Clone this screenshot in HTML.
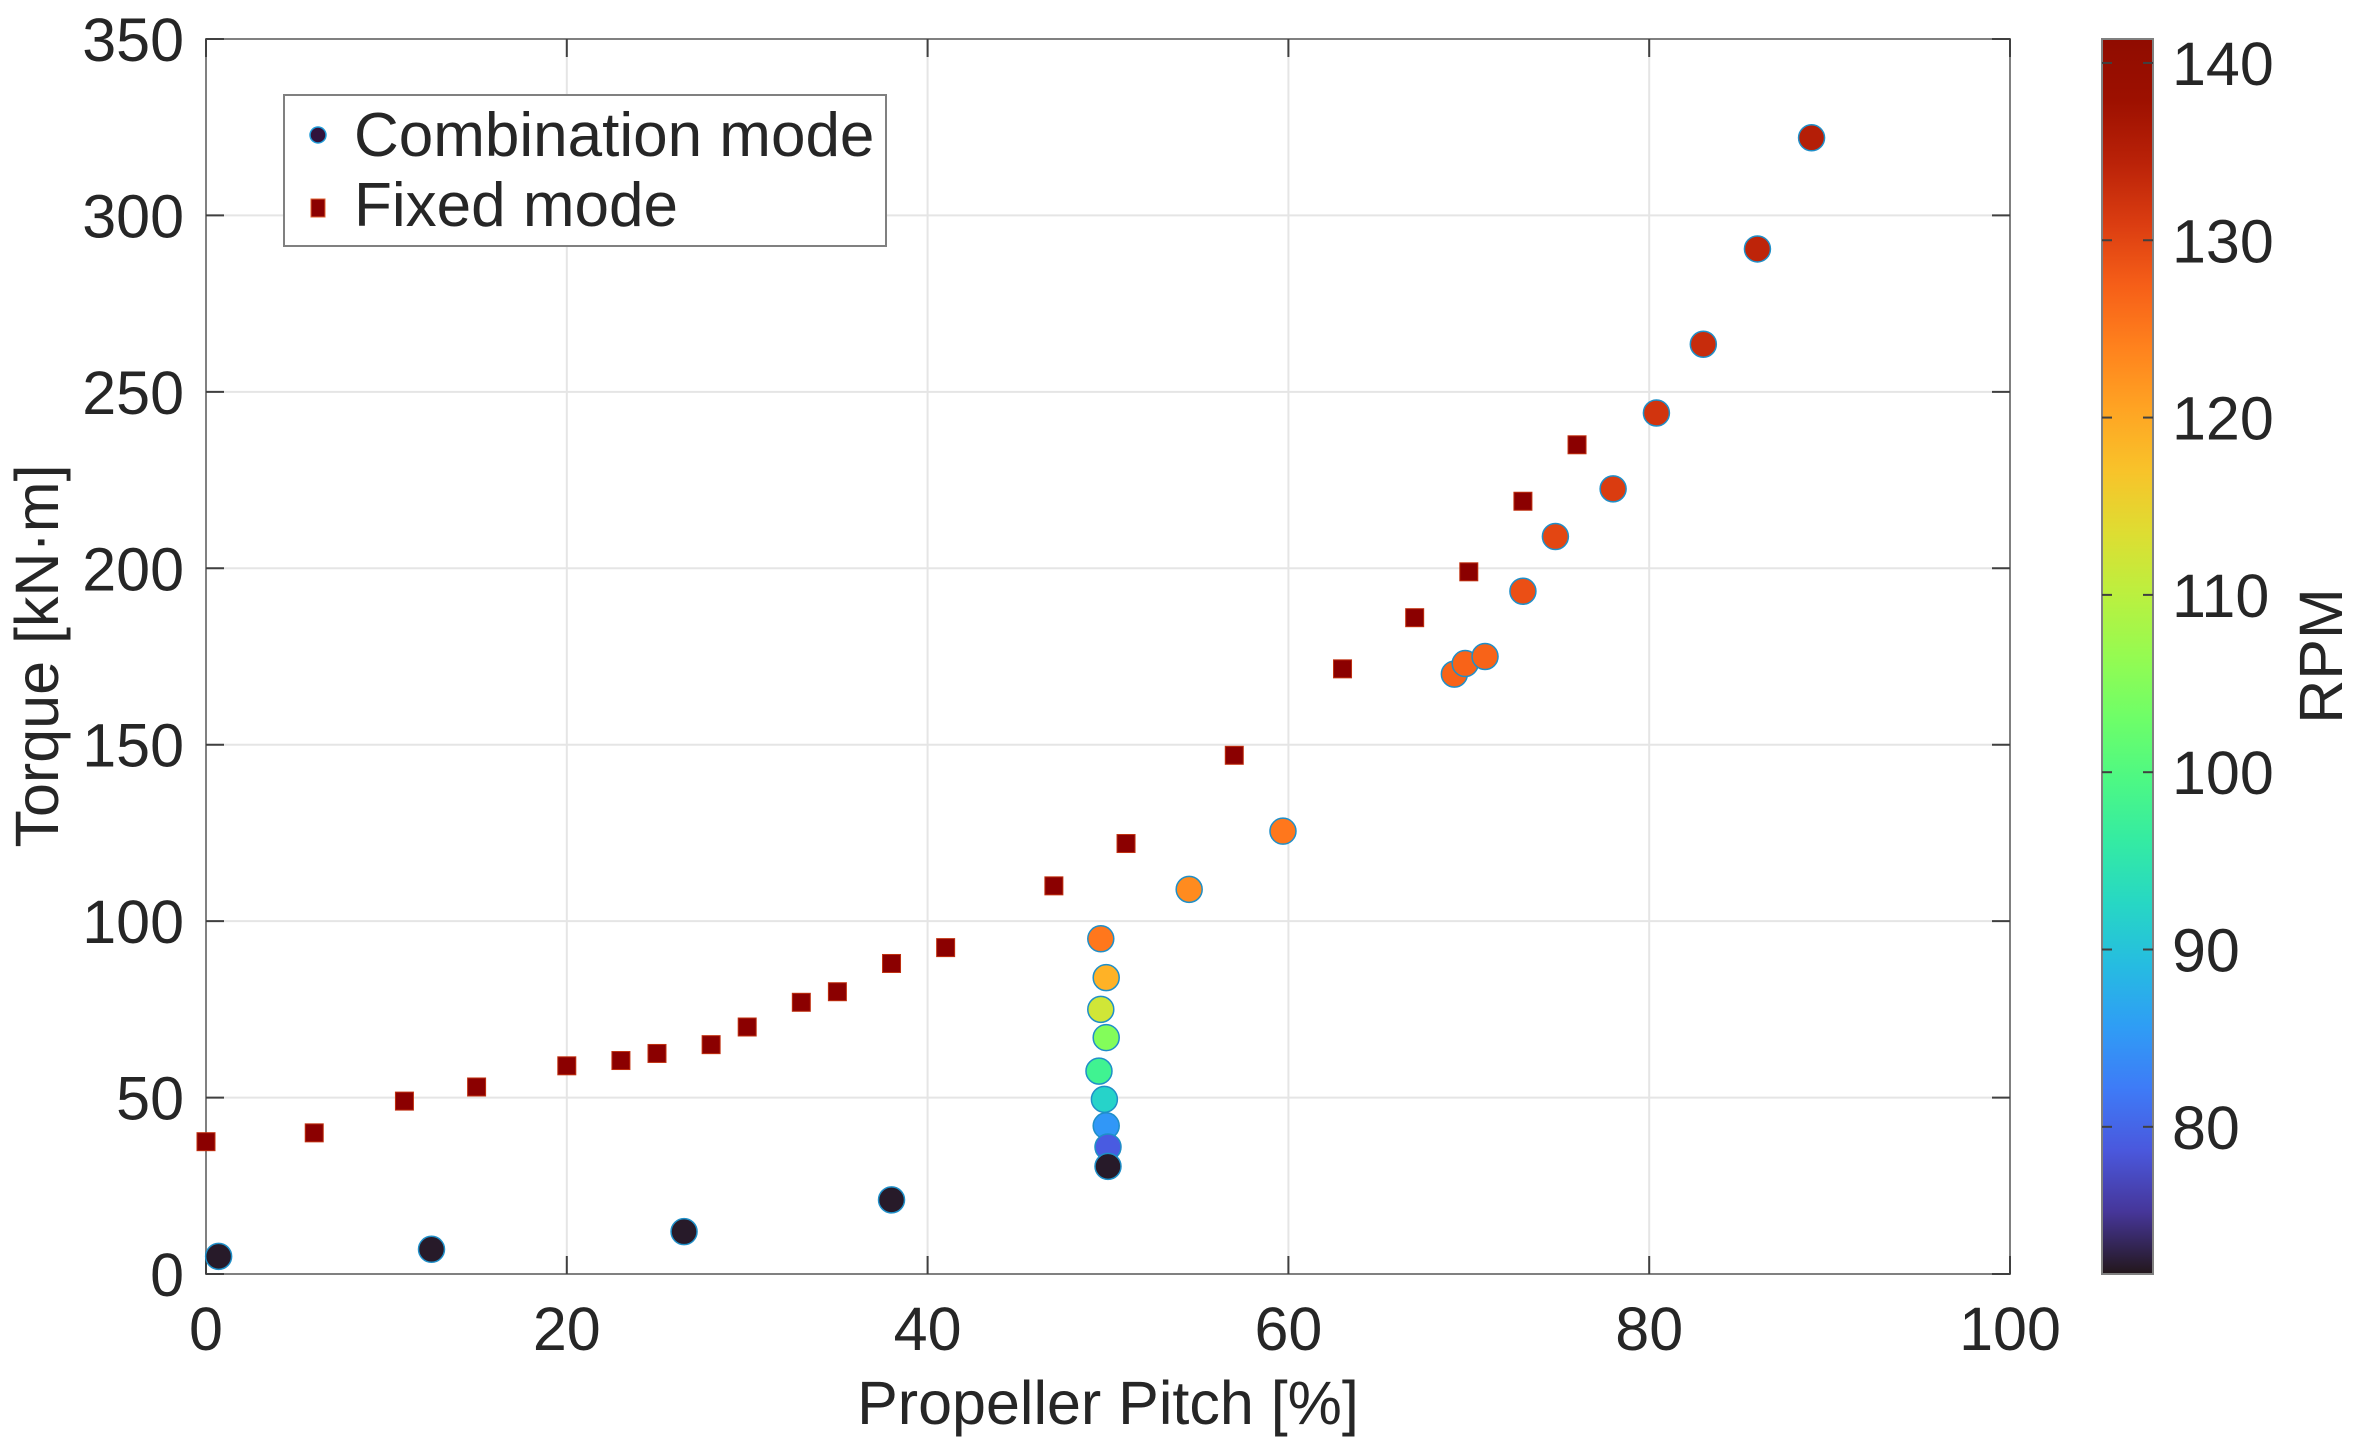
<!DOCTYPE html>
<html><head><meta charset="utf-8"><style>
html,body{margin:0;padding:0;background:#fff;}
svg text{font-family:"Liberation Sans",Arial,sans-serif;fill:#262626;}
</style></head><body>
<svg id="chart" width="2355" height="1451" xmlns="http://www.w3.org/2000/svg">
<defs><linearGradient id="turbo" x1="0" y1="1" x2="0" y2="0"></linearGradient></defs>
<g id="grid"></g>
<rect x="206" y="39" width="1804" height="1235" fill="none" stroke="#808080" stroke-width="2"/>
<g id="ticks"></g>
<g id="marks"></g>
<text x="1108" y="1424" font-size="61" text-anchor="middle">Propeller Pitch [%]</text>
<text x="0" y="0" font-size="61" text-anchor="middle" transform="translate(58,656) rotate(-90)">Torque [kN·m]</text>
<g>
<rect x="284" y="95" width="602" height="151" fill="#fff" stroke="#808080" stroke-width="2"/>
<circle cx="318" cy="135" r="8" fill="#30123b" stroke="#1f9bd8" stroke-width="1.5"/>
<text x="354" y="156" font-size="62">Combination mode</text>
<rect x="311" y="199" width="14" height="18" fill="#8b0000" stroke="#e06030" stroke-width="1"/>
<text x="354" y="226" font-size="62">Fixed mode</text>
</g>
<rect x="2102" y="39" width="51" height="1235" fill="url(#turbo)" stroke="#808080" stroke-width="2"/>
<g id="cbticks"></g>
<text x="0" y="0" font-size="61" text-anchor="middle" transform="translate(2342,656) rotate(-90)">RPM</text>
</svg>
<script>
const xTicks=[0,20,40,60,80,100];
const yTicks=[0,50,100,150,200,250,300,350];
const cTicks=[80,90,100,110,120,130,140];
const fixedPitch=[0,6,11,15,20,23,25,28,30,33,35,38,41,47,51,57,63,67,70,73,76];
const fixedTorque=[37.5,40,49,53,59,60.5,62.5,65,70,77,80,88,92.5,110,122,147,171.5,186,199,219,235];
const combPitch=[0.7,12.5,26.5,38,49.6,49.9,49.6,49.9,49.5,49.8,49.9,50,50,54.5,59.7,69.2,69.8,70.9,73,74.8,78,80.4,83,86,89];
const combTorque=[5,7,12,21,95,84,75,67,57.5,49.5,42,36,30.5,109,125.5,170,173,175,193.5,209,222.5,244,263.5,290.5,322];
const combRPM=[72,72,72,72,125,119,112,105,98,92,85,79,72,123,125,127,127,127,129,130,131,132,133,134,135];
const X0=206,X1=2010,Y0=1274,Y1=39,CMIN=71.7,CMAX=141.35;
const sx=v=>X0+(v-0)/(100-0)*(X1-X0);
const sy=v=>Y0-(v-0)/(350-0)*(Y0-Y1);
const sc=v=>Y0-(v-CMIN)/(CMAX-CMIN)*(Y0-Y1);
function turbo(t){t=Math.max(0,Math.min(1,t));
const r=34.61+t*(1172.33-t*(10793.56-t*(33300.12-t*(38394.49-t*14825.05))));
const g=23.31+t*(557.33+t*(1225.33-t*(3574.96-t*(1073.77+t*707.56))));
const b=27.2+t*(3211.1-t*(15327.97-t*(27814-t*(22569.18-t*6838.66))));
const c=v=>Math.max(0,Math.min(255,Math.round(v)));return `rgb(${c(r)},${c(g)},${c(b)})`;}
const NS="http://www.w3.org/2000/svg";
function mk(tag,attrs,parent){const e=document.createElementNS(NS,tag);for(const k in attrs)e.setAttribute(k,attrs[k]);parent.appendChild(e);return e;}
const grad=document.getElementById('turbo');
for(let i=0;i<=20;i++){mk('stop',{offset:i/20,'stop-color':turbo(i/20)},grad);}
const grid=document.getElementById('grid'),ticks=document.getElementById('ticks'),marks=document.getElementById('marks'),cb=document.getElementById('cbticks');
xTicks.forEach(v=>{const x=sx(v);
const gl=mk('line',{x1:x,x2:x,y1:Y1,y2:Y0,stroke:'#e5e5e5','stroke-width':2},grid);


mk('line',{x1:x,x2:x,y1:Y0,y2:Y0-18,stroke:'#404040','stroke-width':2},ticks);
mk('line',{x1:x,x2:x,y1:Y1,y2:Y1+18,stroke:'#404040','stroke-width':2},ticks);
const t=mk('text',{x:x,y:1350,'font-size':61,'text-anchor':'middle'},ticks);t.textContent=v;

});
yTicks.forEach(v=>{const y=sy(v);
const gl=mk('line',{x1:X0,x2:X1,y1:y,y2:y,stroke:'#e5e5e5','stroke-width':2},grid);


mk('line',{x1:X0,x2:X0+18,y1:y,y2:y,stroke:'#404040','stroke-width':2},ticks);
mk('line',{x1:X1,x2:X1-18,y1:y,y2:y,stroke:'#404040','stroke-width':2},ticks);
const t=mk('text',{x:184,y:y+22,'font-size':61,'text-anchor':'end'},ticks);t.textContent=v;

});
cTicks.forEach(v=>{const y=sc(v);
mk('line',{x1:2102,x2:2112,y1:y,y2:y,stroke:'#404040','stroke-width':2},cb);
mk('line',{x1:2153,x2:2143,y1:y,y2:y,stroke:'#404040','stroke-width':2},cb);
const t=mk('text',{x:2172,y:y+22,'font-size':61},cb);t.textContent=v;

});
fixedPitch.forEach((p,i)=>{const x=sx(p),y=sy(fixedTorque[i]);
const r=mk('rect',{x:x-9,y:y-9,width:18,height:18,fill:'#8b0000',stroke:'#c03010','stroke-width':1},marks);

});
combPitch.forEach((p,i)=>{const x=sx(p),y=sy(combTorque[i]);
const c=mk('circle',{cx:x,cy:y,r:13,fill:turbo((combRPM[i]-CMIN)/(CMAX-CMIN)),stroke:'#1f8fc8','stroke-width':1.5},marks);

});
</script>
</body></html>
